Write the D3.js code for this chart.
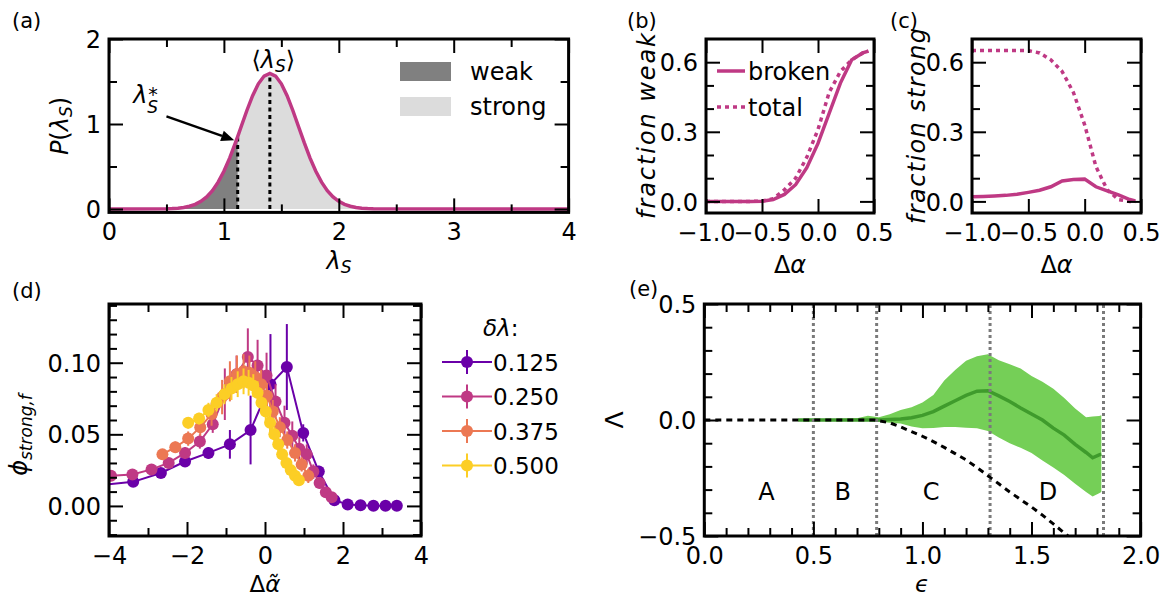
<!DOCTYPE html>
<html><head><meta charset="utf-8">
<script src="https://cdn.jsdelivr.net/npm/d3@7"></script>
<style>
body{margin:0;background:#fff;}
svg text{font-family:"DejaVu Sans",sans-serif;}
</style></head><body>
<svg id="chart" width="1164" height="599" xmlns="http://www.w3.org/2000/svg"></svg>
<script>
// ---------------- DATA ----------------
// (a) distribution of lambda_S
const lambdaGrid = [0, 0.5, 0.55, 0.6, 0.65, 0.7, 0.75, 0.8, 0.85, 0.9, 0.95, 1.0, 1.05, 1.1, 1.12, 1.15, 1.2, 1.25, 1.3, 1.35, 1.4, 1.45, 1.5, 1.55, 1.6, 1.65, 1.7, 1.75, 1.8, 1.85, 1.9, 1.95, 2.0, 2.05, 2.1, 2.15, 2.2, 2.25, 2.3, 4.0];
const pLambda = [0, 0.002, 0.005, 0.010, 0.018, 0.032, 0.054, 0.090, 0.142, 0.216, 0.316, 0.444, 0.599, 0.777, 0.852, 0.968, 1.159, 1.333, 1.473, 1.564, 1.596, 1.564, 1.473, 1.333, 1.159, 0.968, 0.777, 0.599, 0.444, 0.316, 0.216, 0.142, 0.090, 0.054, 0.032, 0.018, 0.010, 0.005, 0.002, 0];
const lambdaStar = 1.12;
const lambdaMean = 1.4;
const aXTicks = [0, 1, 2, 3, 4], aXMinor = [0.5, 1.5, 2.5, 3.5];
const aYTicks = [0, 1, 2], aYMinor = [0.5, 1.5];
const aLegend = ["weak", "strong"];

// (b),(c) fractions vs delta alpha
const dAlpha = [-1.0, -0.9, -0.8, -0.7, -0.6, -0.5, -0.4, -0.3, -0.2, -0.1, 0.0, 0.1, 0.2, 0.3, 0.4, 0.45];
const weakBroken = [0, 0, 0, 0, 0, 0.001, 0.008, 0.030, 0.072, 0.145, 0.25, 0.38, 0.51, 0.61, 0.64, 0.648];
const weakTotal  = [0, 0, 0, 0, 0, 0.001, 0.012, 0.050, 0.100, 0.190, 0.31, 0.47, 0.56, 0.61, 0.64, 0.648];
const strongBroken = [0.020, 0.021, 0.023, 0.026, 0.031, 0.039, 0.048, 0.063, 0.088, 0.094, 0.096, 0.063, 0.045, 0.028, 0.008, 0.002];
const strongTotal  = [0.65, 0.65, 0.65, 0.65, 0.65, 0.65, 0.64, 0.61, 0.56, 0.47, 0.33, 0.15, 0.05, 0.008, 0, 0];
const bcXTicks = [-1.0, -0.5, 0.0, 0.5];
const bcYTicks = [0.0, 0.3, 0.6], bcYMinor = [0.1, 0.2, 0.4, 0.5];
const bLegend = ["broken", "total"];

// (d) phi_strong,f vs scaled delta alpha, four delta-lambda values
const dLambdaLabels = ["0.125", "0.250", "0.375", "0.500"];
const d1x = [-4.2, -3.38, -2.67, -2.05, -1.45, -0.90, -0.37, 0.14, 0.56, 0.98, 1.38, 1.78, 2.12, 2.45, 2.78, 3.09, 3.38];
const d1y = [0.0145, 0.0168, 0.023, 0.031, 0.037, 0.043, 0.053, 0.085, 0.097, 0.051, 0.024, 0.004, 0.001, 0.0004, 0.0002, 0.0001, 0.0001];
const d1e = [0.002, 0.002, 0.003, 0.003, 0.004, 0.010, 0.024, 0.035, 0.030, 0.006, 0.004, 0.002, 0.001, 0.0005, 0.0003, 0.0002, 0.0002];
const d2x = [-3.95, -3.40, -2.91, -2.47, -2.05, -1.67, -1.34, -1.03, -0.73, -0.44, -0.19, 0.04, 0.27, 0.50, 0.70, 0.88, 1.07, 1.24, 1.40, 1.56, 1.71];
const d2y = [0.021, 0.022, 0.0255, 0.030, 0.037, 0.045, 0.057, 0.078, 0.092, 0.104, 0.098, 0.091, 0.073, 0.058, 0.049, 0.040, 0.036, 0.024, 0.016, 0.0095, 0.006];
const d2e = [0.002, 0.002, 0.002, 0.003, 0.004, 0.005, 0.006, 0.018, 0.013, 0.020, 0.018, 0.016, 0.012, 0.012, 0.010, 0.008, 0.007, 0.005, 0.004, 0.002, 0.002];
const d3x = [-2.63, -2.30, -1.97, -1.66, -1.37, -1.10, -0.90, -0.72, -0.55, -0.40, -0.25, -0.10, 0.05, 0.20, 0.38, 0.57, 0.77, 0.94, 1.11];
const d3y = [0.036, 0.041, 0.047, 0.055, 0.064, 0.076, 0.087, 0.092, 0.094, 0.093, 0.090, 0.085, 0.077, 0.066, 0.055, 0.046, 0.037, 0.029, 0.021];
const d3e = [0.003, 0.004, 0.005, 0.006, 0.008, 0.012, 0.014, 0.013, 0.012, 0.012, 0.011, 0.010, 0.009, 0.008, 0.007, 0.006, 0.006, 0.005, 0.005];
const d4x = [-1.97, -1.69, -1.45, -1.24, -1.04, -0.86, -0.70, -0.55, -0.42, -0.30, -0.19, -0.09, 0.02, 0.13, 0.24, 0.34, 0.44, 0.55, 0.66, 0.77, 0.87];
const d4y = [0.058, 0.061, 0.067, 0.072, 0.078, 0.082, 0.085, 0.087, 0.086, 0.084, 0.079, 0.072, 0.066, 0.058, 0.050, 0.043, 0.036, 0.030, 0.025, 0.021, 0.018];
const d4e = [0.004, 0.004, 0.005, 0.006, 0.007, 0.008, 0.009, 0.009, 0.009, 0.008, 0.008, 0.007, 0.006, 0.006, 0.005, 0.005, 0.004, 0.004, 0.004, 0.003, 0.003];
const dXTicks = [-4, -2, 0, 2, 4], dXMinor = [-3, -1, 1, 3];
const dYTicks = [0.00, 0.05, 0.10], dYMinor = [-0.02, -0.01, 0.01, 0.02, 0.03, 0.04, 0.06, 0.07, 0.08, 0.09, 0.11, 0.12, 0.13, 0.14];

// (e) Lambda vs epsilon
const epsBand = [0.43, 0.5, 0.6, 0.7, 0.75, 0.8, 0.85, 0.9, 0.95, 1.0, 1.05, 1.1, 1.15, 1.2, 1.25, 1.3, 1.35, 1.4, 1.45, 1.5, 1.55, 1.6, 1.65, 1.7, 1.75, 1.78, 1.81, 1.82];
const lamMean  = [0, 0, 0, 0, 0, 0, 0.002, 0.004, 0.010, 0.020, 0.036, 0.060, 0.083, 0.106, 0.124, 0.126, 0.104, 0.080, 0.052, 0.026, 0.000, -0.035, -0.065, -0.105, -0.140, -0.163, -0.150, -0.148];
const lamUpper = [0.003, 0.003, 0.004, 0.008, 0.018, 0.012, 0.025, 0.043, 0.055, 0.075, 0.108, 0.170, 0.215, 0.255, 0.275, 0.283, 0.258, 0.240, 0.222, 0.190, 0.165, 0.135, 0.095, 0.050, 0.012, 0.015, 0.017, 0.020];
const lamLower = [-0.003, -0.003, -0.004, -0.004, -0.004, -0.008, -0.012, -0.015, -0.028, -0.036, -0.035, -0.030, -0.030, -0.033, -0.036, -0.047, -0.075, -0.100, -0.120, -0.142, -0.175, -0.205, -0.237, -0.275, -0.310, -0.330, -0.316, -0.310];
const epsRef = [0, 0.78, 0.85, 0.9, 0.95, 1.0, 1.05, 1.1, 1.15, 1.2, 1.25, 1.3, 1.35, 1.4, 1.45, 1.5, 1.55, 1.6, 1.65, 1.7];
const lamRef = [0, 0, -0.012, -0.030, -0.050, -0.070, -0.093, -0.118, -0.145, -0.172, -0.205, -0.240, -0.275, -0.310, -0.343, -0.375, -0.410, -0.448, -0.487, -0.525];
const regionBounds = [0.5, 0.79, 1.31, 1.83];
const regionNames = ["A", "B", "C", "D"];
const regionCenters = [0.285, 0.635, 1.04, 1.576];
const eXTicks = [0.0, 0.5, 1.0, 1.5, 2.0];
const eXMinor = [0.1, 0.2, 0.3, 0.4, 0.6, 0.7, 0.8, 0.9, 1.1, 1.2, 1.3, 1.4, 1.6, 1.7, 1.8, 1.9];
const eYTicks = [-0.5, 0.0, 0.5], eYMinor = [-0.4, -0.3, -0.2, -0.1, 0.1, 0.2, 0.3, 0.4];

// ---------------- STYLE ----------------
const FS = 23, TFS = 24;
const PINK = "#bf3984";
const seriesColors = ["#6a00a8", "#bf3984", "#ec7853", "#fcce25"];
const BAND = "#75cf57", BANDLINE = "#3f9b2c";

const svg = d3.select("#chart");
const defs = svg.append("defs");

function clip(id, x, y) {
  const [xa, xb] = x.range(), [ya, yb] = y.range();
  defs.append("clipPath").attr("id", id).append("rect")
    .attr("x", xa).attr("y", yb).attr("width", xb - xa).attr("height", ya - yb);
  return `url(#${id})`;
}

function axes(g, x, y, c) {
  const [xa, xb] = x.range(), [ya, yb] = y.range();
  const L = 14, M = 8;
  const style = sel => {
    sel.attr("font-size", TFS).attr("font-family", "DejaVu Sans, sans-serif");
    sel.select(".domain").remove();
    sel.selectAll(".tick line").attr("stroke", "#000").attr("stroke-width", 2);
    sel.selectAll(".tick text").attr("fill", "#000");
  };
  const add = (axis, tx, ty) => g.append("g").attr("transform", `translate(${tx},${ty})`).call(axis).call(style);
  add(d3.axisBottom(x).tickValues(c.xMajor).tickSize(-L).tickFormat(c.xFmt), 0, ya)
    .selectAll("text").attr("y", 27.5).attr("dy", null);
  add(d3.axisBottom(x).tickValues(c.xMinor).tickSize(-M).tickFormat(""), 0, ya);
  add(d3.axisTop(x).tickValues(c.xMajor).tickSize(-L).tickFormat(""), 0, yb);
  add(d3.axisTop(x).tickValues(c.xMinor).tickSize(-M).tickFormat(""), 0, yb);
  add(d3.axisLeft(y).tickValues(c.yMajor).tickSize(-L).tickFormat(c.yFmt), xa, 0)
    .selectAll("text").attr("x", -8).attr("dy", "0.36em");
  add(d3.axisLeft(y).tickValues(c.yMinor).tickSize(-M).tickFormat(""), xa, 0);
  add(d3.axisRight(y).tickValues(c.yMajor).tickSize(-L).tickFormat(""), xb, 0);
  add(d3.axisRight(y).tickValues(c.yMinor).tickSize(-M).tickFormat(""), xb, 0);
  g.append("rect").attr("x", xa).attr("y", yb).attr("width", xb - xa).attr("height", ya - yb)
    .attr("fill", "none").attr("stroke", "#000").attr("stroke-width", 3);
}

function panelLabel(txt, x, y) {
  svg.append("text").attr("x", x).attr("y", y).attr("font-size", 21).text(txt);
}

// ---------------- PANEL (a) ----------------
{
  const x = d3.scaleLinear().domain([0, 4]).range([109, 568.6]);
  const y = d3.scaleLinear().domain([-0.04, 2]).range([212.4, 39]);
  const g = svg.append("g");
  const cp = clip("clipA", x, y);
  const pts = lambdaGrid.map((l, i) => [l, pLambda[i]]);
  const area = d3.area().x(d => x(d[0])).y0(y(0)).y1(d => y(d[1]));
  const dg = g.append("g").attr("clip-path", cp);
  dg.append("path").attr("d", area(pts.filter(d => d[0] >= lambdaStar))).attr("fill", "#dcdcdc");
  dg.append("path").attr("d", area(pts.filter(d => d[0] <= lambdaStar))).attr("fill", "#808080");
  const pStar = pLambda[lambdaGrid.indexOf(lambdaStar)];
  const pMean = pLambda[lambdaGrid.indexOf(lambdaMean)];
  [[lambdaStar, pStar], [lambdaMean, pMean]].forEach(([l, p]) => {
    dg.append("line").attr("x1", x(l)).attr("x2", x(l)).attr("y1", y(0)).attr("y2", y(p))
      .attr("stroke", "#000").attr("stroke-width", 3).attr("stroke-dasharray", "4,3.5");
  });
  dg.append("path").attr("d", d3.line().x(d => x(d[0])).y(d => y(d[1]))(pts))
    .attr("fill", "none").attr("stroke", PINK).attr("stroke-width", 3.5);
  axes(g, x, y, {xMajor: aXTicks, xMinor: aXMinor, yMajor: aYTicks, yMinor: aYMinor,
    xFmt: d3.format("d"), yFmt: d3.format("d")});
  // legend
  const legCol = ["#808080", "#dcdcdc"];
  aLegend.forEach((t, i) => {
    g.append("rect").attr("x", 400).attr("y", 62 + i * 35).attr("width", 51).attr("height", 19).attr("fill", legCol[i]);
    g.append("text").attr("x", 470).attr("y", 80 + i * 35).attr("font-size", TFS).text(t);
  });
  // annotations
  const tm = g.append("text").attr("x", x(1.43)).attr("y", y(1.66)).attr("font-size", TFS).attr("text-anchor", "middle");
  tm.append("tspan").text("⟨");
  tm.append("tspan").attr("font-style", "italic").text("λ");
  tm.append("tspan").attr("font-style", "italic").attr("font-size", 17).attr("dy", 4).text("S");
  tm.append("tspan").attr("dy", -4).text("⟩");
  const ts = g.append("text").attr("x", x(0.21)).attr("y", y(1.25)).attr("font-size", TFS).attr("font-style", "italic");
  ts.append("tspan").text("λ");
  ts.append("tspan").attr("font-size", 17).attr("dy", 10).text("S");
  ts.append("tspan").attr("font-size", 19).attr("font-style", "normal").attr("dx", -10).attr("dy", -12).text("*");
  const ax0 = x(0.5), ay0 = y(1.09), ax1 = x(1.09), ay1 = y(0.81);
  const ang = Math.atan2(ay1 - ay0, ax1 - ax0), hl = 13, hw = 5.5;
  g.append("line").attr("x1", ax0).attr("y1", ay0).attr("x2", ax1 - hl * Math.cos(ang)).attr("y2", ay1 - hl * Math.sin(ang))
    .attr("stroke", "#000").attr("stroke-width", 2.5);
  const bx = ax1 - hl * Math.cos(ang), by = ay1 - hl * Math.sin(ang);
  g.append("polygon").attr("points", [
    [ax1, ay1], [bx + hw * Math.sin(ang), by - hw * Math.cos(ang)], [bx - hw * Math.sin(ang), by + hw * Math.cos(ang)]
  ].map(p => p.join(",")).join(" ")).attr("fill", "#000");
  // axis labels
  const yl = g.append("text").attr("transform", "translate(68,126) rotate(-90)").attr("text-anchor", "middle").attr("font-size", TFS);
  yl.append("tspan").attr("font-style", "italic").text("P");
  yl.append("tspan").text("(");
  yl.append("tspan").attr("font-style", "italic").text("λ");
  yl.append("tspan").attr("font-style", "italic").attr("font-size", 17).attr("dy", 4).text("S");
  yl.append("tspan").attr("dy", -4).text(")");
  const xl = g.append("text").attr("x", 339).attr("y", 269).attr("text-anchor", "middle").attr("font-size", TFS).attr("font-style", "italic");
  xl.append("tspan").text("λ");
  xl.append("tspan").attr("font-size", 17).attr("dy", 4).text("S");
  panelLabel("(a)", 12, 28);
}

// ---------------- PANELS (b),(c) ----------------
function fracPanel(x0, x1, broken, total, ylab, ylx, showLegend, lbl, lblx) {
  const x = d3.scaleLinear().domain([-1, 0.5]).range([x0, x1]);
  const y = d3.scaleLinear().domain([-0.05, 0.7]).range([213, 39]);
  const g = svg.append("g");
  const cp = clip("clip" + lbl.replace(/[()]/g, ""), x, y);
  const line = d3.line().x((d, i) => x(dAlpha[i])).y(d => y(d));
  const dg = g.append("g").attr("clip-path", cp);
  dg.append("path").attr("d", line(total)).attr("fill", "none").attr("stroke", PINK).attr("stroke-width", 3.5).attr("stroke-dasharray", "4,4");
  dg.append("path").attr("d", line(broken)).attr("fill", "none").attr("stroke", PINK).attr("stroke-width", 3.5);
  axes(g, x, y, {xMajor: bcXTicks, xMinor: [], yMajor: bcYTicks, yMinor: bcYMinor,
    xFmt: d3.format(".1f"), yFmt: d3.format(".1f")});
  g.append("text").attr("transform", `translate(${ylx},${(39 + 213) / 2}) rotate(-90)`).attr("text-anchor", "middle")
    .attr("font-size", 24).attr("font-style", "italic").attr("textLength", ylab === "fraction weak" ? 186 : 196)
    .attr("lengthAdjust", "spacing").text(ylab);
  const xl = g.append("text").attr("x", (x0 + x1) / 2).attr("y", 273).attr("text-anchor", "middle").attr("font-size", TFS);
  xl.append("tspan").text("Δ");
  xl.append("tspan").attr("font-style", "italic").text("α");
  if (showLegend) {
    bLegend.forEach((t, i) => {
      const yy = 71 + i * 36;
      g.append("line").attr("x1", 717).attr("x2", 745).attr("y1", yy).attr("y2", yy).attr("stroke", PINK)
        .attr("stroke-width", 3.5).attr("stroke-dasharray", i ? "4,4" : null);
      g.append("text").attr("x", 748).attr("y", yy + 8.5).attr("font-size", TFS).text(t);
    });
  }
  panelLabel(lbl, lblx, 28);
}
fracPanel(706, 874, weakBroken, weakTotal, "fraction weak", 655, true, "(b)", 627);
fracPanel(972, 1141, strongBroken, strongTotal, "fraction strong", 925, false, "(c)", 890);

// ---------------- PANEL (d) ----------------
{
  const x = d3.scaleLinear().domain([-4, 4]).range([109, 421]);
  const y = d3.scaleLinear().domain([-0.021, 0.141]).range([536, 304]);
  const g = svg.append("g");
  const cp = clip("clipD", x, y);
  const dg = g.append("g").attr("clip-path", cp);
  const series = [[d1x, d1y, d1e], [d2x, d2y, d2e], [d3x, d3y, d3e], [d4x, d4y, d4e]];
  series.forEach(([xs, ys, es], k) => {
    const col = seriesColors[k];
    const pts = xs.map((v, i) => ({x: v, y: ys[i], e: es[i]}));
    const sg = dg.append("g");
    sg.append("path").attr("d", d3.line().x(d => x(d.x)).y(d => y(d.y))(pts))
      .attr("fill", "none").attr("stroke", col).attr("stroke-width", 2);
    sg.selectAll("line.err").data(pts).join("line").attr("class", "err")
      .attr("x1", d => x(d.x)).attr("x2", d => x(d.x)).attr("y1", d => y(d.y - d.e)).attr("y2", d => y(d.y + d.e))
      .attr("stroke", col).attr("stroke-width", 2);
    sg.selectAll("circle").data(pts).join("circle")
      .attr("cx", d => x(d.x)).attr("cy", d => y(d.y)).attr("r", 6).attr("fill", col);
  });
  axes(g, x, y, {xMajor: dXTicks, xMinor: dXMinor, yMajor: dYTicks, yMinor: dYMinor,
    xFmt: d3.format("d"), yFmt: d3.format(".2f")});
  // labels
  const yl = g.append("text").attr("transform", "translate(27,435) rotate(-90)").attr("text-anchor", "middle").attr("font-size", TFS).attr("font-style", "italic");
  yl.append("tspan").text("ϕ");
  yl.append("tspan").attr("font-size", 17).attr("dy", 5).text("strong,f");
  const xl = g.append("text").attr("x", 265).attr("y", 592).attr("text-anchor", "middle").attr("font-size", 23);
  xl.append("tspan").text("Δ");
  xl.append("tspan").attr("font-style", "italic").text("α̃");
  // legend
  const tt = g.append("text").attr("x", 483).attr("y", 336).attr("font-size", FS);
  tt.append("tspan").attr("font-style", "italic").text("δλ");
  tt.append("tspan").text(":");
  dLambdaLabels.forEach((t, k) => {
    const yy = 362 + k * 34.5, col = seriesColors[k];
    g.append("line").attr("x1", 442).attr("x2", 492).attr("y1", yy).attr("y2", yy).attr("stroke", col).attr("stroke-width", 2);
    g.append("line").attr("x1", 467).attr("x2", 467).attr("y1", yy - 12).attr("y2", yy + 12).attr("stroke", col).attr("stroke-width", 2);
    g.append("circle").attr("cx", 467).attr("cy", yy).attr("r", 6).attr("fill", col);
    g.append("text").attr("x", 493).attr("y", yy + 8.5).attr("font-size", FS).text(t);
  });
  panelLabel("(d)", 12, 298);
}

// ---------------- PANEL (e) ----------------
{
  const x = d3.scaleLinear().domain([0, 2]).range([704.3, 1140.6]);
  const y = d3.scaleLinear().domain([-0.5, 0.5]).range([536, 304]);
  const g = svg.append("g");
  const cp = clip("clipE", x, y);
  const dg = g.append("g").attr("clip-path", cp);
  const band = epsBand.map((e, i) => ({e, lo: lamLower[i], hi: lamUpper[i], m: lamMean[i]}));
  dg.append("path").attr("d", d3.area().x(d => x(d.e)).y0(d => y(d.lo)).y1(d => y(d.hi))(band)).attr("fill", BAND);
  dg.append("path").attr("d", d3.line().x(d => x(d.e)).y(d => y(d.m))(band))
    .attr("fill", "none").attr("stroke", BANDLINE).attr("stroke-width", 3.5);
  regionBounds.forEach(b => {
    dg.append("line").attr("x1", x(b)).attr("x2", x(b)).attr("y1", y(-0.5)).attr("y2", y(0.5))
      .attr("stroke", "#7a7a7a").attr("stroke-width", 3).attr("stroke-dasharray", "3,3");
  });
  dg.append("path").attr("d", d3.line().x((d, i) => x(epsRef[i])).y(d => y(d))(lamRef))
    .attr("fill", "none").attr("stroke", "#000").attr("stroke-width", 3).attr("stroke-dasharray", "6,5");
  regionNames.forEach((n, i) => {
    g.append("text").attr("x", x(regionCenters[i])).attr("y", y(-0.345)).attr("text-anchor", "middle").attr("font-size", TFS).text(n);
  });
  axes(g, x, y, {xMajor: eXTicks, xMinor: eXMinor, yMajor: eYTicks, yMinor: eYMinor,
    xFmt: d3.format(".1f"), yFmt: d3.format(".1f")});
  g.append("text").attr("transform", "translate(623,420) rotate(-90)").attr("text-anchor", "middle").attr("font-size", 25).text("Λ");
  g.append("text").attr("x", 922).attr("y", 592).attr("text-anchor", "middle").attr("font-size", 23).attr("font-style", "italic").text("ϵ");
  panelLabel("(e)", 629, 296);
}
</script>
</body></html>
